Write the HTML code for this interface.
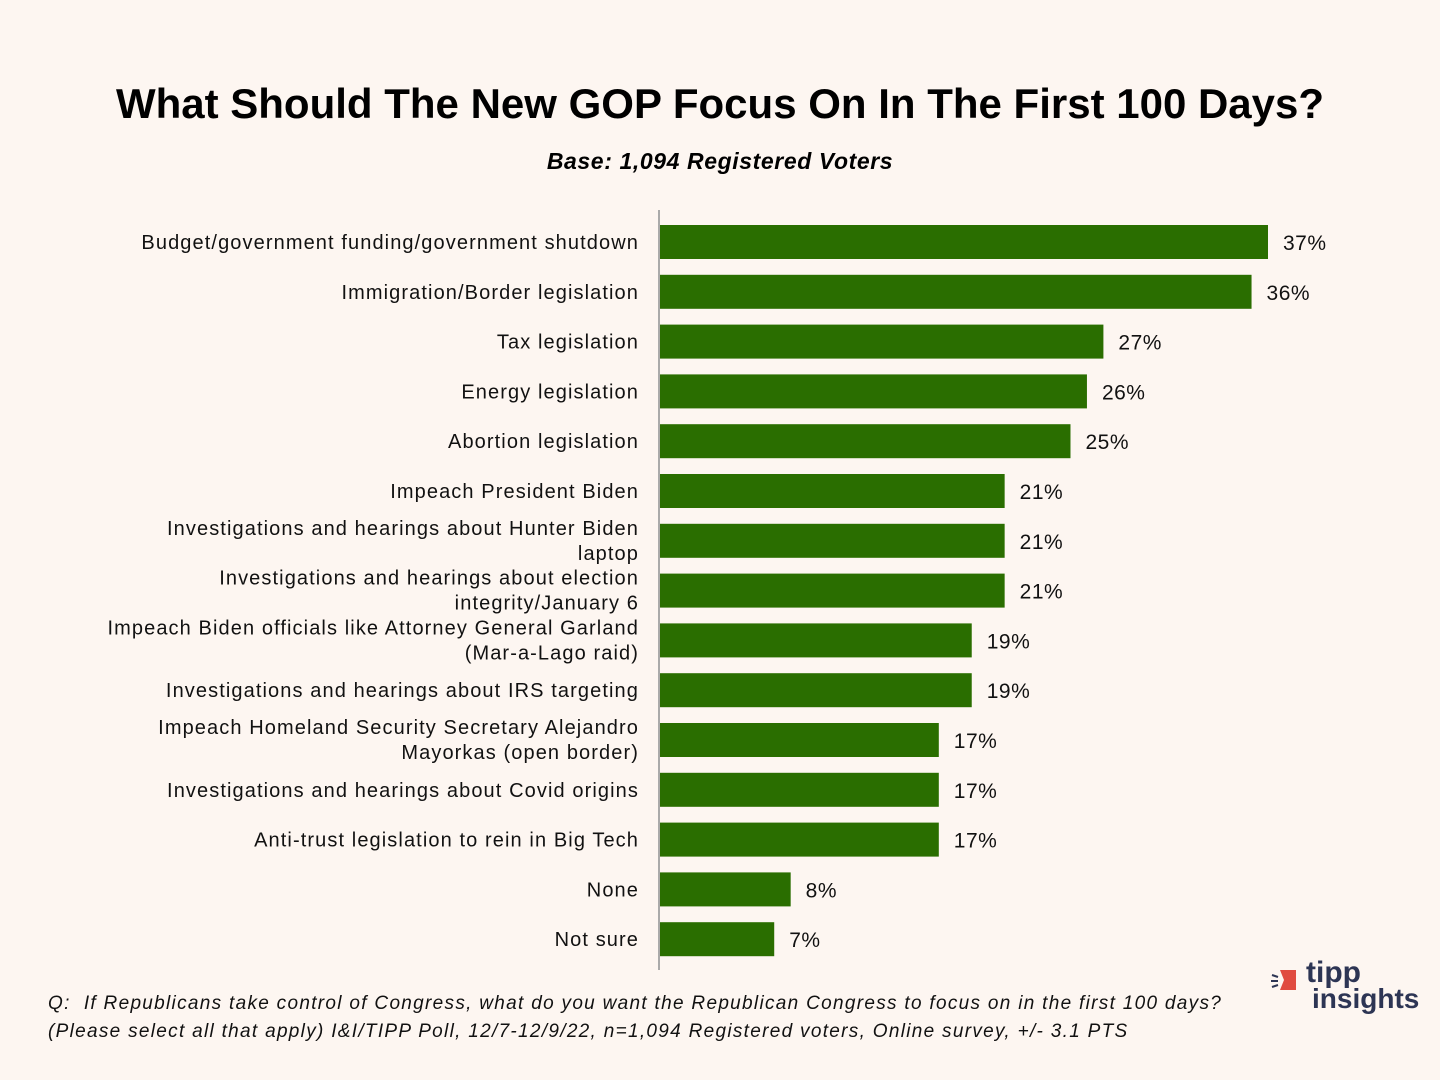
<!DOCTYPE html>
<html><head><meta charset="utf-8"><style>
body{margin:0;background:#fdf6f1;}
#wrap{position:relative;width:1440px;height:1080px;background:#fdf6f1;font-family:"Liberation Sans",sans-serif;overflow:hidden}
.title{position:absolute;left:0;width:1440px;top:80px;text-align:center;font-size:42px;font-weight:bold;color:#000}
.sub{position:absolute;left:0;width:1440px;top:148px;text-align:center;font-size:23px;font-weight:bold;font-style:italic;letter-spacing:0.6px}
.foot{position:absolute;left:48px;top:990px;font-size:19px;font-style:italic;line-height:28px;color:#111;letter-spacing:1.3px}
</style></head><body>
<div id="wrap">
<div class="title">What Should The New GOP Focus On In The First 100 Days?</div>
<div class="sub">Base: 1,094 Registered Voters</div>
<svg id="chart" width="1440" height="1080" style="position:absolute;left:0;top:0"></svg>
<div class="foot">Q:&nbsp; If Republicans take control of Congress, what do you want the Republican Congress to focus on in the first 100 days?<br>(Please select all that apply) I&amp;I/TIPP Poll, 12/7-12/9/22, n=1,094 Registered voters, Online survey, +/- 3.1 PTS</div>
<div style="position:absolute;left:1270px;top:962px;width:160px;height:56px">
<svg width="40" height="30" style="position:absolute;left:0;top:4px"><path d="M10 4 L26 4 L26 24 L10 24 L14 14 Z" fill="#e04b40"/><path d="M2 9 L8 11 M1 15 L8 15 M2 21 L8 19" stroke="#2d3554" stroke-width="2"/></svg>
<div style="position:absolute;left:36px;top:-4px;font-size:30px;font-weight:bold;color:#2d3554;line-height:30px">tipp</div>
<div style="position:absolute;left:42px;top:22px;font-size:28px;font-weight:bold;color:#2d3554;line-height:30px">insights</div>
</div>
</div>
<script>
const categories=[["Budget/government funding/government shutdown"],["Immigration/Border legislation"],["Tax legislation"],["Energy legislation"],["Abortion legislation"],["Impeach President Biden"],["Investigations and hearings about Hunter Biden ","laptop"],["Investigations and hearings about election ","integrity/January 6"],["Impeach Biden officials like Attorney General Garland ","(Mar-a-Lago raid)"],["Investigations and hearings about IRS targeting"],["Impeach Homeland Security Secretary Alejandro ","Mayorkas (open border)"],["Investigations and hearings about Covid origins"],["Anti-trust legislation to rein in Big Tech"],["None"],["Not sure"]];
const values=[37,36,27,26,25,21,21,21,19,19,17,17,17,8,7];
const valueLabels=values.map(v=>v+"%");
const NS="http://www.w3.org/2000/svg";
const svg=document.getElementById("chart");
const x0=659,pxPer=609/37;
const xs=v=>x0+v*pxPer;
const ys=i=>242+i*49.8;
function mk(t,a){const e=document.createElementNS(NS,t);for(const k in a)e.setAttribute(k,a[k]);svg.appendChild(e);return e;}
values.forEach((v,i)=>{
 const r=mk("rect",{x:x0,y:ys(i)-17,width:xs(v)-x0,height:34,fill:"#2a6e00"});
 
 
 const t=mk("text",{x:xs(v)+15,y:ys(i)+8,"font-size":21,fill:"#111","font-family":"Liberation Sans, sans-serif","letter-spacing":"0.5"});
 t.textContent=valueLabels[i];
 
 
 const lines=categories[i];
 lines.forEach((ln,j)=>{
  const dy=lines.length===1?7:(j===0?-6:19);
  const c=mk("text",{x:639,y:ys(i)+dy,"font-size":20,fill:"#111","text-anchor":"end","font-family":"Liberation Sans, sans-serif","letter-spacing":"1.1","xml:space":"preserve"});
  c.textContent=ln;
  
  
 });
});
const ax=mk("line",{x1:x0,x2:x0,y1:210,y2:970,stroke:"#aaa","stroke-width":2});


</script>
</body></html>
